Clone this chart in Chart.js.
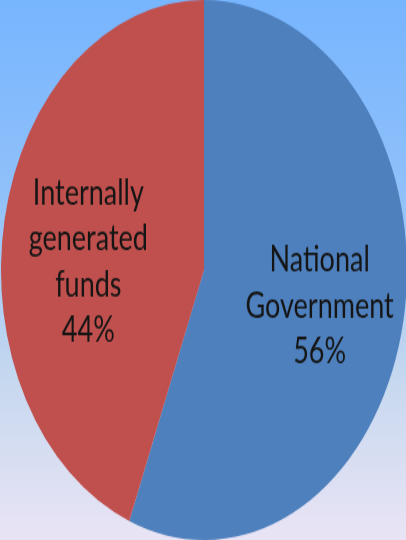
<!DOCTYPE html>
<html>
<head>
<meta charset="utf-8">
<script src="https://cdn.jsdelivr.net/npm/chart.js@4.4.1/dist/chart.umd.min.js"></script>
<style>
  html, body { margin: 0; padding: 0; }
  body {
    width: 406px; height: 540px; overflow: hidden;
    background: linear-gradient(to bottom, #77b5fe 0%, #8fc0fa 35%, #c6d8ef 70%, #e9e4f5 100%);
  }
  #wrap { position: relative; width: 406px; height: 540px; }
  canvas { display: block; }
</style>
</head>
<body>
<div id="wrap"><canvas id="c" width="408" height="406" style="width:408px;height:540px;margin-left:0px"></canvas></div>
<script>
const categories = ["National Government", "Internally generated funds"];
const values = [56, 44];
const labelLines = [["National", "Government", "56%"], ["Internally", "generated", "funds", "44%"]];
const colors = ["#4e80bd", "#c0504d"];

const labelPlugin = {
  id: 'sliceLabels',
  afterDatasetsDraw(chart) {
    const ctx = chart.ctx;
    const meta = chart.getDatasetMeta(0);
    const dy = [5, 16];
    ctx.save();
    ctx.fillStyle = '#151515';
    ctx.font = '27px Lato, "Open Sans", sans-serif';
    ctx.textAlign = 'center';
    ctx.textBaseline = 'middle';
    const lh = 34.5;
    meta.data.forEach((arc, i) => {
      const p = arc.getProps(['x', 'y', 'startAngle', 'endAngle', 'outerRadius'], true);
      const mid = (p.startAngle + p.endAngle) / 2;
      const r = p.outerRadius * 0.58;
      const cx = p.x + Math.cos(mid) * r;
      const cy = p.y + Math.sin(mid) * r + dy[i];
      const lines = labelLines[i];
      const y0 = cy - (lines.length - 1) * lh / 2;
      lines.forEach((t, k) => ctx.fillText(t, cx, y0 + k * lh));
    });
    ctx.restore();
  }
};

new Chart(document.getElementById('c'), {
  type: 'pie',
  data: {
    labels: categories,
    datasets: [{
      data: values,
      backgroundColor: colors,
      borderWidth: 0
    }]
  },
  options: {
    responsive: false,
    animation: false,
    devicePixelRatio: 1,
    layout: { padding: { left: 0, right: 0, top: 0, bottom: 0 } },
    plugins: { legend: { display: false }, tooltip: { enabled: false } }
  },
  plugins: [labelPlugin]
});
</script>
</body>
</html>
